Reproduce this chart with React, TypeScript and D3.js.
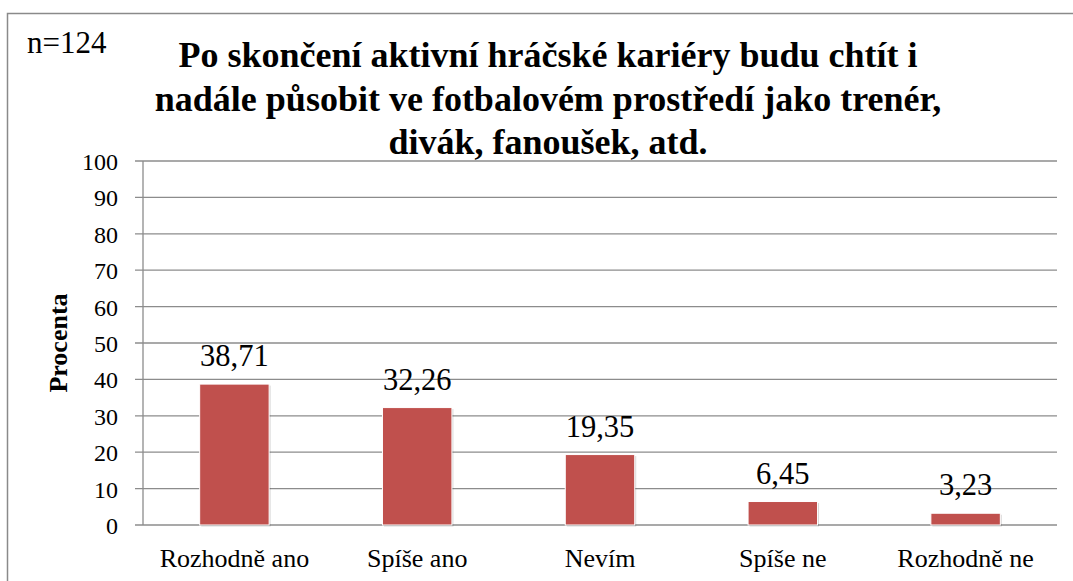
// Chart: attitudes toward staying in football after career (bar chart, Czech)
import React, { useEffect, useRef } from "react";
import * as d3 from "d3";

const sampleLabel = "n=124";
const yAxisTitle = "Procenta";
const categories = ["Rozhodně ano", "Spíše ano", "Nevím", "Spíše ne", "Rozhodně ne"];
const values = [38.71, 32.26, 19.35, 6.45, 3.23];
const valueLabels = ["38,71", "32,26", "19,35", "6,45", "3,23"];
const yTicks = [0, 10, 20, 30, 40, 50, 60, 70, 80, 90, 100];
const titleLines = [
  "Po skončení aktivní hráčské kariéry budu chtít i",
  "nadále působit ve fotbalovém prostředí jako trenér,",
  "divák, fanoušek, atd.",
];

const FONT = "Liberation Serif";

export default function App() {
  const ref = useRef<SVGSVGElement | null>(null);
  useEffect(() => {
    const W = 1073;
    const H = 581;
    const left = 143;
    const right = 1057;
    const top = 161;
    const bottom = 525;
    const grid = "#8c8c8c";
    const svg = d3.select(ref.current);
    svg.selectAll("*").remove();
    const x = d3.scaleBand<string>().domain(categories).range([left, right]).paddingInner(0.62).paddingOuter(0.31);
    const y = d3.scaleLinear().domain([0, 100]).range([bottom, top]);

    const addText = (g: any, tx: number, ty: number, txt: string, size: number, anchor: string, bold = false, rot = 0) =>
      g.append("text")
        .attr("transform", `translate(${tx},${ty})${rot ? ` rotate(${rot})` : ""}`)
        .attr("text-anchor", anchor)
        .attr("font-family", FONT)
        .attr("font-size", size)
        .attr("font-weight", bold ? "bold" : "normal")
        .style("font-family", FONT)
        .attr("fill", "#000")
        .text(txt);

    svg.append("rect").attr("x", 7.5).attr("y", 13.5).attr("width", W + 20).attr("height", H + 20)
      .attr("fill", "#fff").attr("stroke", "#8a8a8a").attr("stroke-width", 1.5);

    addText(svg, 27, 53, sampleLabel, 31, "start");
    titleLines.forEach((t, i) => addText(svg, 548, 67 + i * 43.5, t, 36, "middle", true));

    yTicks.forEach((t) => {
      svg.append("line").attr("x1", 135).attr("x2", right).attr("y1", y(t)).attr("y2", y(t))
        .attr("stroke", grid).attr("stroke-width", 1.3);
      addText(svg, 118, y(t) + 9, String(t), 24, "end");
    });
    svg.append("line").attr("x1", left).attr("x2", left).attr("y1", top).attr("y2", bottom)
      .attr("stroke", grid).attr("stroke-width", 1.3);
    addText(svg, 67, (top + bottom) / 2, yAxisTitle, 26, "middle", true, -90);

    categories.forEach((c, i) => {
      const bx = x(c)!;
      const bw = x.bandwidth();
      const by = y(values[i]);
      svg.append("rect").attr("x", bx + 1.5).attr("y", by + 1.5).attr("width", bw).attr("height", bottom - by)
        .attr("fill", "#000").attr("opacity", 0.15);
      svg.append("rect").attr("x", bx).attr("y", by).attr("width", bw).attr("height", bottom - by)
        .attr("fill", "#C0504D").attr("stroke", "#fff").attr("stroke-width", 1);
      addText(svg, bx + bw / 2, by - 18, valueLabels[i], 30.5, "middle");
      addText(svg, bx + bw / 2, 567, c, 26, "middle");
    });
  }, []);
  return <svg ref={ref} width={1073} height={581} style={{ position: "absolute", left: 0, top: 0, fontFamily: FONT }} />;
}
